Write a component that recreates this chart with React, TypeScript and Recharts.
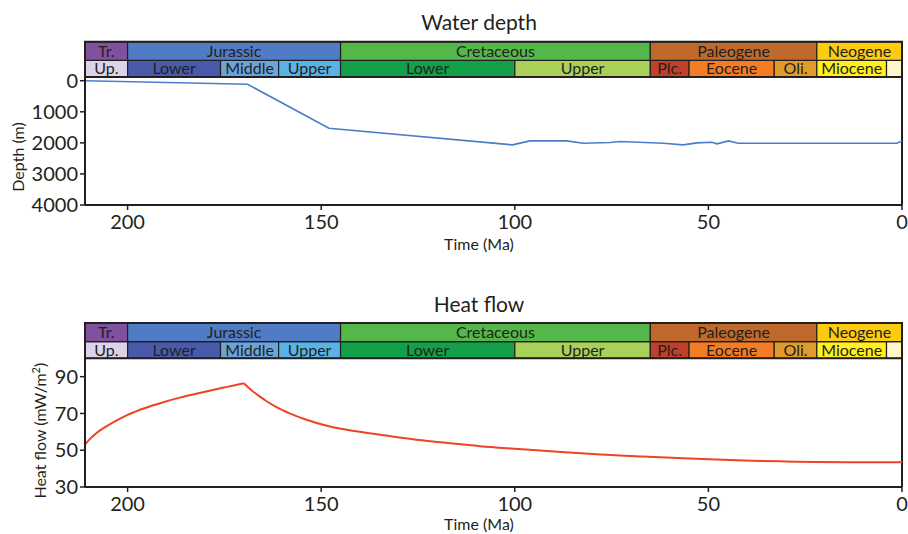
import React from 'react';
import { LineChart, Line, XAxis, YAxis, ReferenceArea, ReferenceLine, Label } from 'recharts';

// ---- Geologic time scale (ages in Ma) ----
const AGE_MAX = 211;
const periodNames = ['Tr.', 'Jurassic', 'Cretaceous', 'Paleogene', 'Neogene'];
const periodBounds = [211, 200, 145, 65, 22, 0];
const epochNames = ['Up.', 'Lower', 'Middle', 'Upper', 'Lower', 'Upper', 'Plc.', 'Eocene', 'Oli.', 'Miocene', ''];
const epochBounds = [211, 200, 176, 161, 145, 100, 65, 55, 33, 22, 4, 0];

// ---- Water depth history ----
const depthAges = [211, 169, 148, 100.6, 96.1, 86.6, 82.3, 75.4, 72.8, 61.6, 56.5, 53, 49.1, 47.8, 44.8, 42.3, 1.3, 0];
const depthValues = [0, 115, 1530, 2064, 1936, 1936, 2010, 1990, 1958, 2010, 2064, 2000, 1978, 2032, 1936, 2010, 2010, 1936];

// ---- Basal heat flow history (rifting phase, then thermal decay) ----
const heatRiseAges = [211, 209.5, 208, 206, 203.5, 200, 195.5, 191, 186.5, 182, 178, 174, 170];
const heatRiseValues = [53.2, 56.6, 59.4, 62.3, 65.4, 69.2, 73.0, 76.0, 78.6, 80.9, 82.8, 84.6, 86.4];
const heatFallAges = [170, 168, 166, 164, 162, 160, 158, 154, 148, 141, 132, 124, 116, 109, 99, 88, 78, 67, 56.5, 48, 39, 30, 22, 10, 0];
const heatFallValues = [86.4, 82.6, 79.4, 76.5, 74.0, 71.8, 69.9, 66.7, 63.0, 60.3, 57.6, 55.4, 53.6, 52.2, 50.7, 49.1, 47.7, 46.6, 45.7, 44.9, 44.3, 43.9, 43.6, 43.4, 43.4];

const timeTicks = [200, 150, 100, 50, 0];
const depthTicks = [0, 1000, 2000, 3000, 4000];
const heatTicks = [30, 50, 70, 90];

// ---- Styling ----
const INK = '#231f20';
const FONT = 'Lato, "Open Sans", sans-serif';
const periodColors = ['#7f519f', '#4f7cc4', '#53b74a', '#bf6a2c', '#fdcb0f'];
const epochColors = ['#dcd3ea', '#4a5aab', '#6aa5da', '#59b3e6', '#14a04b', '#a9d15a', '#bf412d', '#f47d23', '#e09b2b', '#fff01e', '#fcf6c8'];

const CHART_W = 900;
const TOP_H = 270;
const BOTTOM_H = 256;

const depthData = depthAges.map((age, i) => ({ age, v: depthValues[i] }));
const heatRiseData = heatRiseAges.map((age, i) => ({ age, v: heatRiseValues[i] }));
const heatFallData = heatFallAges.map((age, i) => ({ age, v: heatFallValues[i] }));

// Two-row stratigraphic bar drawn just above the plot area.
// edge: value at the top of the plot; dir: direction (in data units) that points upward on screen.
function timeScaleAreas(prefix: string, edge: number, unitsPerPx: number, dir: number) {
  const epochRowPx = 16.7;
  const periodRowPx = 18.5;
  const a = edge;
  const b = edge + dir * epochRowPx * unitsPerPx;
  const c = edge + dir * (epochRowPx + periodRowPx) * unitsPerPx;
  const labelStyle = { position: 'center' as const, fill: INK, fontSize: 16, fontFamily: FONT };
  const els: any[] = [];
  epochNames.forEach((name, i) => {
    els.push(
      <ReferenceArea
        key={`${prefix}-e-${i}`}
        x1={epochBounds[i]}
        x2={epochBounds[i + 1]}
        y1={a}
        y2={b}
        ifOverflow="visible"
        fill={epochColors[i]}
        fillOpacity={1}
        stroke={INK}
        strokeWidth={1.2}
        label={name ? { value: name, ...labelStyle } : undefined}
      />
    );
  });
  periodNames.forEach((name, i) => {
    els.push(
      <ReferenceArea
        key={`${prefix}-p-${i}`}
        x1={periodBounds[i]}
        x2={periodBounds[i + 1]}
        y1={b}
        y2={c}
        ifOverflow="visible"
        fill={periodColors[i]}
        fillOpacity={1}
        stroke={INK}
        strokeWidth={1.2}
        label={{ value: name, ...labelStyle }}
      />
    );
  });
  els.push(
    <ReferenceArea
      key={`${prefix}-frame`}
      x1={AGE_MAX}
      x2={0}
      y1={a}
      y2={c}
      ifOverflow="visible"
      fill="none"
      stroke={INK}
      strokeWidth={2}
    />
  );
  return els;
}

const timeLabel = (props: any) => {
  const vb = props.viewBox || {};
  return (
    <text x={471} y={vb.y + vb.height} textAnchor="middle" fill={INK} fontSize={16} fontFamily={FONT}>
      Time (Ma)
    </text>
  );
};

const depthLabel = (props: any) => {
  const vb = props.viewBox || {};
  return (
    <text
      transform={`translate(15.5, ${vb.y + vb.height / 2 + 16}) rotate(-90)`}
      textAnchor="middle"
      fill={INK}
      fontSize={16}
      fontFamily={FONT}
    >
      Depth (m)
    </text>
  );
};

const heatLabel = (props: any) => {
  const vb = props.viewBox || {};
  return (
    <text
      transform={`translate(38, ${vb.y + vb.height / 2 + 8}) rotate(-90)`}
      textAnchor="middle"
      fill={INK}
      fontSize={16}
      fontFamily={FONT}
    >
      Heat flow (mW/m
      <tspan dy={-6} fontSize={11}>2</tspan>
      <tspan dy={6}>)</tspan>
    </text>
  );
};

const tickStyle = { fontSize: 20, fill: INK, fontFamily: FONT };
const axisLine = { stroke: INK, strokeWidth: 2 };
const tickLine = { stroke: INK, strokeWidth: 1.5 };

export default function App() {
  // top chart: plot height 128 px over [-120, 4000]
  const depthDomain: [number, number] = [-120, 4000];
  const depthUnitsPerPx = (depthDomain[1] - depthDomain[0]) / 128;
  // bottom chart: plot height 128.7 px over [30, 100]
  const heatDomain: [number, number] = [30, 100];
  const heatUnitsPerPx = (heatDomain[1] - heatDomain[0]) / 128.7;

  return (
    <>
      <style>{`html, body { margin: 0; padding: 0; overflow: hidden; background: #fff; }`}</style>
      <div
        style={{
          position: 'absolute',
          left: 8,
          top: 8,
          width: CHART_W,
          height: TOP_H + BOTTOM_H,
          fontFamily: FONT,
        }}
      >
        <div style={{ position: 'absolute', left: 0, top: 0 }}>
          <LineChart
            width={CHART_W}
            height={TOP_H}
            data={depthData}
            margin={{ top: 69, right: 6, bottom: 28, left: 0 }}
          >
            <XAxis
              dataKey="age"
              type="number"
              domain={[0, AGE_MAX]}
              reversed
              allowDataOverflow
              ticks={timeTicks}
              interval={0}
              height={45}
              tick={tickStyle}
              tickSize={5}
              tickMargin={5}
              axisLine={axisLine}
              tickLine={tickLine}
            >
              <Label content={timeLabel} />
            </XAxis>
            <YAxis
              type="number"
              domain={depthDomain}
              reversed
              allowDataOverflow
              ticks={depthTicks}
              interval={0}
              width={77}
              tick={tickStyle}
              tickSize={5}
              axisLine={axisLine}
              tickLine={tickLine}
            >
              <Label content={depthLabel} />
            </YAxis>
            <ReferenceLine x={0} stroke={INK} strokeWidth={2} ifOverflow="visible" />
            {timeScaleAreas('d', depthDomain[0], depthUnitsPerPx, -1)}
            <Line
              dataKey="v"
              type="linear"
              stroke="#4a7dc9"
              strokeWidth={1.6}
              dot={false}
              activeDot={false}
              isAnimationActive={false}
            />
          </LineChart>
        </div>

        <div style={{ position: 'absolute', left: 0, top: TOP_H }}>
          <LineChart
            width={CHART_W}
            height={BOTTOM_H}
            margin={{ top: 80.3, right: 6, bottom: 4, left: 0 }}
          >
            <XAxis
              dataKey="age"
              type="number"
              domain={[0, AGE_MAX]}
              reversed
              allowDataOverflow
              ticks={timeTicks}
              interval={0}
              height={43}
              tick={tickStyle}
              tickSize={5}
              tickMargin={5}
              axisLine={axisLine}
              tickLine={tickLine}
            >
              <Label content={timeLabel} />
            </XAxis>
            <YAxis
              type="number"
              domain={heatDomain}
              allowDataOverflow
              ticks={heatTicks}
              interval={0}
              width={77}
              tick={tickStyle}
              tickSize={5}
              axisLine={axisLine}
              tickLine={tickLine}
            >
              <Label content={heatLabel} />
            </YAxis>
            <ReferenceLine x={0} stroke={INK} strokeWidth={2} ifOverflow="visible" />
            {timeScaleAreas('h', heatDomain[1], heatUnitsPerPx, 1)}
            <Line
              data={heatRiseData}
              dataKey="v"
              type="monotoneX"
              stroke="#ee4424"
              strokeWidth={2}
              dot={false}
              activeDot={false}
              isAnimationActive={false}
            />
            <Line
              data={heatFallData}
              dataKey="v"
              type="monotoneX"
              stroke="#ee4424"
              strokeWidth={2}
              dot={false}
              activeDot={false}
              isAnimationActive={false}
            />
          </LineChart>
        </div>

        <svg
          width={CHART_W}
          height={TOP_H + BOTTOM_H}
          style={{ position: 'absolute', left: 0, top: 0, pointerEvents: 'none' }}
        >
          <text x={471} y={22} textAnchor="middle" fill={INK} fontSize={21} fontFamily={FONT}>
            Water depth
          </text>
          <text x={471} y={304} textAnchor="middle" fill={INK} fontSize={21} fontFamily={FONT}>
            Heat flow
          </text>
        </svg>
      </div>
    </>
  );
}
